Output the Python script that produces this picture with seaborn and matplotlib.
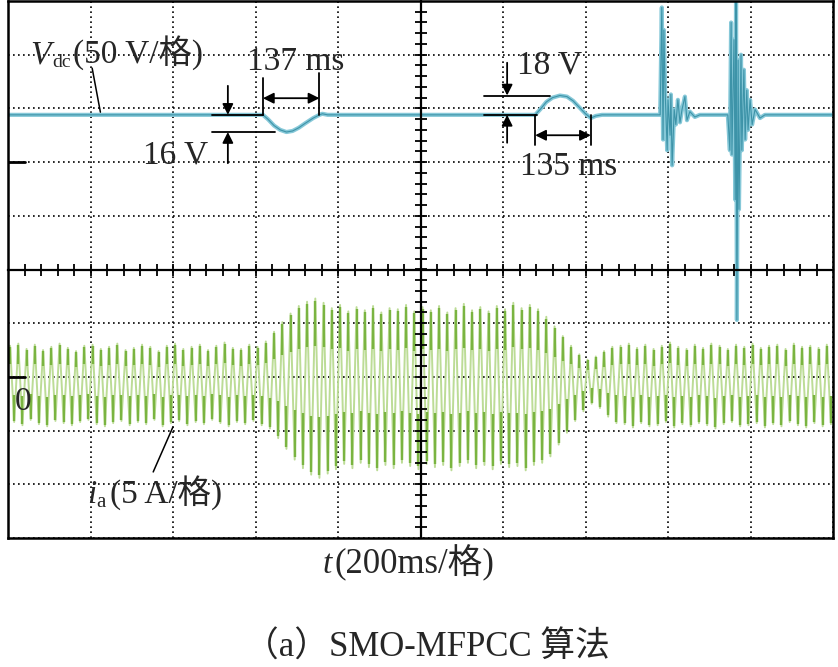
import matplotlib
matplotlib.use("Agg")
import matplotlib.pyplot as plt
import numpy as np
import pandas as pd
import seaborn as sns

# time base: 200 ms/div, 10 divisions on screen
# Vdc channel (50 V/div): deviation from the steady level
vdc_t = [0, 618, 630, 645, 660, 675, 690, 705, 720, 740, 755, 762, 775,
         1278, 1290, 1305, 1320, 1338, 1355, 1370, 1385, 1400, 1413, 1425, 1440,
         1581, 1583, 1585, 1588, 1590, 1593, 1598, 1600, 1605, 1607, 1610,
         1615, 1619, 1624, 1629, 1634, 1641, 1646, 1653, 1665, 1677,
         1745, 1750, 1753, 1755, 1760, 1763, 1765, 1767, 1770, 1772, 1777,
         1779, 1784, 1787, 1791, 1794, 1799, 1804, 1811, 1823, 1835, 2000]
vdc_dev = [0, 0, -4, -10, -14, -16, -15, -12, -8, -3, 0, 1, 0,
           0, 5, 12, 16, 18, 17, 13, 7, 1, -3, -1, 0,
           0, 51, 100, -23, 79, 23, -33, 14, -19, 19, -47,
           5, -9, 14, -7, 5, 17, -5, 3, -2, 0,
           0, -33, 86, -37, 70, -79, 116, -191, 51, -88, 56,
           -33, 42, -23, 23, -14, 14, -9, 5, -3, 0, 0]
vdc_level = 44      # V above the channel marker
vdc_marker = 2      # div
# ia channel (5 A/div): positive / negative peak of every 20 ms cycle
ia_pos = [2.9, 3.1, 2.6, 3.0, 2.5, 2.8, 3.1, 2.7, 2.4, 2.9, 3.0, 2.6, 2.8, 3.1, 2.5, 2.7,
          3.0, 2.8, 2.4, 2.9, 3.1, 2.6, 2.8, 3.0, 2.5, 2.9, 3.2, 2.7, 2.6, 3.0, 2.8,
          3.3, 4.2, 5.1, 5.9, 6.6, 7.0, 7.3, 6.9,
          6.4, 6.7, 6.1, 6.5, 6.2, 6.6, 6.0, 6.4, 6.3, 6.7, 6.1, 6.5, 6.2, 6.6, 6.0,
          6.4, 6.8, 6.2, 6.5, 6.1, 6.6, 6.3, 6.9, 6.4, 6.7, 6.3,
          5.6, 4.7, 3.8, 2.9, 2.1, 1.6, 1.9, 2.4, 2.8,
          2.9, 3.1, 2.7, 3.0, 2.6, 2.9, 3.2, 2.8, 2.6, 3.0, 2.7, 3.1, 2.9, 2.6, 3.0,
          2.8, 3.1, 2.7, 2.9, 3.0, 2.6, 3.1, 2.8, 2.9, 2.7, 3.0]
ia_neg = [-4.2, -4.5, -4.0, -4.4, -4.6, -4.1, -4.3, -4.5, -4.2, -4.0, -4.4, -4.6, -4.3,
          -4.1, -4.5, -4.2, -4.4, -4.0, -4.6, -4.3, -4.1, -4.5, -4.2, -4.4, -4.0, -4.3,
          -4.6, -4.2, -4.4, -4.1, -4.5,
          -4.8, -5.7, -6.7, -7.7, -8.5, -9.1, -9.4, -9.0,
          -8.6, -8.1, -8.5, -8.0, -8.4, -8.7, -8.2, -8.5, -8.0, -8.3, -8.6, -8.1, -8.4,
          -8.2, -8.7, -8.3, -8.0, -8.5, -8.2, -8.6, -8.1, -8.4, -8.3, -8.7, -8.2, -8.0,
          -7.4, -6.3, -5.2, -4.1, -3.2, -2.5, -2.9, -3.7, -4.3,
          -4.4, -4.7, -4.3, -4.6, -4.5, -4.2, -4.7, -4.4, -4.6, -4.3, -4.5, -4.8, -4.4,
          -4.2, -4.6, -4.5, -4.3, -4.7, -4.4, -4.6, -4.2, -4.5, -4.7, -4.3, -4.6, -4.4]
ia_marker = -2      # div
period = 20         # ms

W, H = 838, 667
sns.set_style("white")
plt.rcParams["font.family"] = ["Liberation Serif", "Noto Sans CJK SC"]

fig = plt.figure(figsize=(W / 100, H / 100), dpi=100)
rect = [8 / W, 1 - 538 / H, 825 / W, 537 / H]
ax = fig.add_axes(rect)

# traces
vdc_df = pd.DataFrame({"t": vdc_t,
                       "div": vdc_marker + (vdc_level + np.array(vdc_dev)) / 50})
t_pos = np.arange(len(ia_pos)) * period + period / 4
t_neg = np.arange(len(ia_neg)) * period + 3 * period / 4
ia_df = pd.DataFrame({"t": np.ravel(np.column_stack([t_pos, t_neg])),
                      "amp": np.ravel(np.column_stack([ia_pos, ia_neg]))})
ia_df["div"] = ia_marker + ia_df["amp"] / 5

sns.lineplot(data=ia_df, x="t", y="div", estimator=None, sort=False,
             color="#bcdc96", lw=1.4, ax=ax)
pos = np.array(ia_pos) / 5
neg = np.array(ia_neg) / 5
ax.vlines(t_pos, ia_marker + 0.4 * pos, ia_marker + 0.97 * pos, color="#7ab441", lw=1.7)
ax.vlines(t_neg, ia_marker + 0.4 * neg, ia_marker + 0.97 * neg, color="#7ab441", lw=1.7)

sns.lineplot(data=vdc_df, x="t", y="div", estimator=None, sort=False,
             color="#86c8d8", lw=3.0, ax=ax)
sns.lineplot(data=vdc_df, x="t", y="div", estimator=None, sort=False,
             color="#3d93a8", lw=0.8, ax=ax)

# screen grid
ax.set_xlim(0, 2000)
ax.set_ylim(-5, 5)
ax.set_xticks(np.arange(0, 2001, 200))
ax.set_yticks(np.arange(-5, 6, 1))
ax.set_axisbelow(True)
ax.grid(True, color="black", linestyle=(0, (1, 2)), lw=1.2)
ax.tick_params(length=0, labelbottom=False, labelleft=False)
ax.set_xlabel("")
ax.set_ylabel("")
for s in ax.spines.values():
    s.set_visible(True)
    s.set_color("black")
    s.set_linewidth(1.8)

# centre cross with 0.2 div ticks
ax2 = fig.add_axes(rect)
ax2.patch.set_visible(False)
ax2.set_xlim(0, 2000)
ax2.set_ylim(-5, 5)
ax2.spines["top"].set_visible(False)
ax2.spines["right"].set_visible(False)
ax2.spines["left"].set_position(("data", 1000))
ax2.spines["bottom"].set_position(("data", 0))
for s in ["left", "bottom"]:
    ax2.spines[s].set_color("black")
    ax2.spines[s].set_linewidth(1.6)
ax2.set_xticks(np.arange(40, 2000, 40))
ax2.set_yticks(np.arange(-4.8, 4.9, 0.2))
ax2.tick_params(bottom=True, left=True, direction="inout", length=9, width=1.3,
                color="black", labelbottom=False, labelleft=False)

# channel markers
ax.plot([0, 41], [vdc_marker, vdc_marker], color="black", lw=2)
ax.plot([0, 41], [ia_marker, ia_marker], color="black", lw=2)

# measurement annotations
line = dict(color="black", lw=1.3)
head = dict(arrowstyle="-|>", color="black", lw=1.3, mutation_scale=16, shrinkA=0, shrinkB=0)
both = dict(arrowstyle="<|-|>", color="black", lw=1.3, mutation_scale=16, shrinkA=0, shrinkB=0)
base = vdc_marker + vdc_level / 50
# 137 ms / 16 V
ax.plot([618, 618], [base, 3.57], **line)
ax.plot([755, 755], [base, 3.66], **line)
ax.annotate("", xy=(755, 3.19), xytext=(618, 3.19), arrowprops=both)
ax.plot([495, 618], [base, base], **line)
ax.plot([495, 647], [base - 16 / 50, base - 16 / 50], **line)
ax.annotate("", xy=(533, base), xytext=(533, 3.42), arrowprops=head)
ax.annotate("", xy=(533, base - 16 / 50), xytext=(533, 1.98), arrowprops=head)
# 135 ms / 18 V
ax.plot([1154, 1314], [base + 18 / 50, base + 18 / 50], **line)
ax.plot([1154, 1282], [base, base], **line)
ax.annotate("", xy=(1210, base + 18 / 50), xytext=(1210, 3.85), arrowprops=head)
ax.annotate("", xy=(1210, base), xytext=(1210, 2.36), arrowprops=head)
ax.plot([1278, 1278], [base, 2.32], **line)
ax.plot([1413, 1413], [base, 2.32], **line)
ax.annotate("", xy=(1413, 2.50), xytext=(1278, 2.50), arrowprops=both)
# leader lines
ax.plot([204, 224], [3.75, 2.93], color="black", lw=1.1)
ax.plot([400, 352], [-2.93, -3.77], color="black", lw=1.1)


def ptxt(x, y, s, size=24, **kw):
    fig.text(x / W, 1 - y / H, s, fontsize=size, va="baseline", **kw)


ptxt(30, 63, "V", style="italic")
ptxt(52, 67, "dc", size=14)
ptxt(73, 63, "(50 V/格)")
ptxt(247, 70, "137 ms")
ptxt(143, 163, "16 V")
ptxt(517, 73, "18 V")
ptxt(520, 175, "135 ms")
ptxt(15, 410, "0")
ptxt(87, 503, "i", style="italic")
ptxt(96, 507, "a", size=15)
ptxt(110, 503, "(5 A/格)")
ptxt(323, 573, "t", style="italic")
ptxt(335, 573, "(200ms/格)", size=25)
ptxt(427, 657, "（a）SMO-MFPCC 算法", size=25, ha="center")

fig.savefig("out.png", dpi=100)
